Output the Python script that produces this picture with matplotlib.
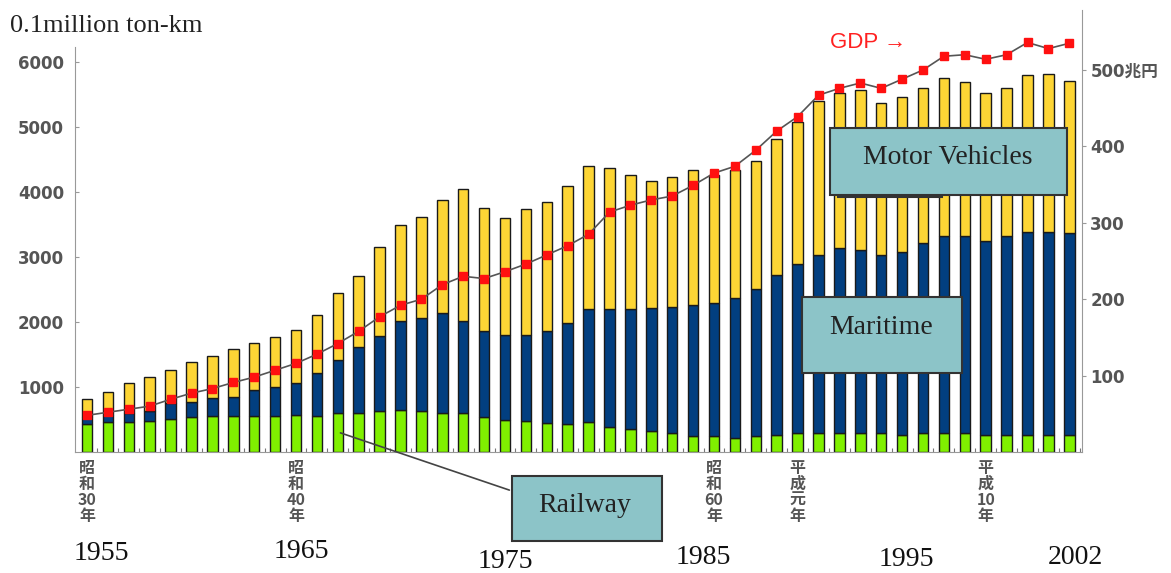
import numpy as np
import matplotlib.pyplot as plt
from matplotlib.patches import Rectangle
import matplotlib.transforms as mtransforms

# data (0.1 million ton-km / GDP in trillion yen)
years = np.arange(1955, 2003)
railway = [431, 466, 461, 477, 508, 533, 559, 554, 554, 559, 569, 554,
           605, 605, 631, 646, 631, 605, 605, 544, 492, 482, 441, 431,
           456, 390, 354, 328, 287, 246, 246, 221, 246, 262, 287,
           287, 287, 287, 287, 262, 287, 287, 287, 262, 262, 262, 262, 262]
maritime = [110, 105, 145, 160, 241, 241, 267, 297, 400, 436, 498, 656,
            810, 1015, 1159, 1369, 1425, 1528, 1410, 1318, 1308, 1318, 1426, 1559,
            1739, 1805, 1841, 1882, 1939, 2010, 2051, 2153, 2257, 2461, 2605,
            2744, 2846, 2821, 2744, 2820, 2934, 3036, 3036, 2989, 3061, 3118, 3118, 3102]
motor = [270, 357, 451, 517, 517, 611, 656, 734, 728, 779, 805, 898,
         1036, 1088, 1359, 1477, 1564, 1744, 2031, 1897, 1805, 1933, 1984, 2102,
         2210, 2179, 2067, 1959, 2000, 2082, 1965, 1964, 1974, 2092, 2180,
         2374, 2385, 2461, 2333, 2385, 2374, 2426, 2374, 2277, 2282, 2420, 2435, 2349]
gdp = [48, 52, 56, 60, 69, 77, 83, 91, 98, 107, 116, 128,
       142, 158, 177, 192, 200, 219, 230, 227, 236, 246, 258, 270,
       285, 314, 323, 330, 335, 349, 365, 374, 395, 420, 439,
       467, 476, 483, 476, 488, 500, 518, 520, 514, 520, 536, 528, 535]

era_years = [1955, 1965, 1985, 1989, 1998]
era_labels = ['昭\n和\n30\n年', '昭\n和\n40\n年', '昭\n和\n60\n年', '平\n成\n元\n年', '平\n成\n10\n年']
year_labels = ['1955', '1965', '1975', '1985', '1995', '2002']
year_label_x = [1955.67, 1965.24, 1975.0, 1984.47, 1994.2, 2002.29]
year_label_y = [553, 551, 562, 557, 560, 557]

W, H = 1171, 573
def fx(px):
    return px / W
def fy(py):
    return 1 - py / H

fig = plt.figure(figsize=(W / 100, H / 100), dpi=100)
ax = fig.add_axes([fx(75), fy(452), fx(1082) - fx(75), fy(10) - fy(452)])
ax2 = ax.twinx()

rail = np.array(railway)
mar = np.array(maritime)
mot = np.array(motor)
ec = '#1a1a1a'
ax.bar(years, rail, width=0.5, color='#80f000', edgecolor=ec, linewidth=1.0, zorder=2)
ax.bar(years, mar, bottom=rail, width=0.5, color='#023f80', edgecolor=ec, linewidth=1.0, zorder=2)
ax.bar(years, mot, bottom=rail + mar, width=0.5, color='#fdd535', edgecolor=ec, linewidth=1.0, zorder=2)

ax2.plot(years, gdp, color='#555555', linewidth=1.2, marker='s', markersize=6,
         markerfacecolor='#ff1010', markeredgecolor='#ff1010', zorder=3)

xl = 1955 - 12 / 20.9
ax.set_xlim(xl, xl + 1007 / 20.9)
ax.set_ylim(0, 442 / 65 * 1000)
ax2.set_ylim(0, 442 * 500 / 382)

ax.spines['top'].set_visible(False)
ax2.spines['top'].set_visible(False)
ax2.spines['left'].set_visible(False)
ax2.spines['bottom'].set_visible(False)
ax.spines['right'].set_visible(False)
ax.spines['left'].set_bounds(0, 6230)
ax.spines['left'].set_color('#999999')
ax.spines['bottom'].set_color('#999999')
ax2.spines['right'].set_color('#999999')

ax.set_yticks([1000, 2000, 3000, 4000, 5000, 6000])
ax.tick_params(axis='y', length=3, direction='in', color='#999999', labelsize=12,
               labelcolor='#555555', pad=8)
for t in ax.get_yticklabels():
    t.set_fontweight('bold')
ax.set_xticks(years + 0.5)
ax.set_xticklabels([])
ax.tick_params(axis='x', length=3, direction='in', color='#777777')

ax2.set_yticks([100, 200, 300, 400, 500])
ax2.set_yticklabels(['100', '200', '300', '400', '500兆円'],
                    family=['DejaVu Sans', 'Noto Sans CJK JP'], fontweight='bold')
ax2.tick_params(axis='y', length=3, color='#999999', labelsize=12, labelcolor='#555555', pad=3)

# era labels under the axis
trans = mtransforms.blended_transform_factory(ax.transData, fig.transFigure)
for yr, lab in zip(era_years, era_labels):
    ax.text(yr, fy(460), lab, transform=trans, ha='center', va='top', fontsize=11.5,
            color='#555555', family=['Noto Sans CJK JP', 'DejaVu Sans'], fontweight='bold',
            linespacing=1.0)
for lab, x, y in zip(year_labels, year_label_x, year_label_y):
    ax.text(x, fy(y), lab, transform=trans, ha='center', va='center', fontsize=20,
            family='Liberation Serif', color='#111111')

fig.text(fx(10), fy(26), '0.1million ton-km', fontsize=19, family='Liberation Serif',
         color='#222222', va='center', ha='left')
fig.text(fx(830), fy(42), 'GDP →', fontsize=16, family='Liberation Sans',
         color='#ff2020', va='center', ha='left')

def box(x0, y0, x1, y1, face='#8cc4c8', z=5):
    r = Rectangle((fx(x0), fy(y1)), fx(x1) - fx(x0), fy(y0) - fy(y1), transform=fig.transFigure,
                  facecolor=face, edgecolor='#333333', linewidth=1.5, zorder=z)
    fig.add_artist(r)

box(838, 130, 942, 197, face='#eeeeee', z=4)
box(830, 128, 1067, 195)
box(802, 297, 962, 373)
box(512, 476, 662, 541)
fig.text(fx(948), fy(157), 'Motor Vehicles', fontsize=20, family='Liberation Serif',
         color='#222222', ha='center', va='center', zorder=6)
fig.text(fx(881), fy(327), 'Maritime', fontsize=20, family='Liberation Serif',
         color='#222222', ha='center', va='center', zorder=6)
fig.text(fx(585), fy(506), 'Railway', fontsize=20, family='Liberation Serif',
         color='#222222', ha='center', va='center', zorder=6)

ax.annotate('', xy=(1967, 308), xycoords='data', xytext=(fx(512), fy(491)),
            textcoords='figure fraction',
            arrowprops=dict(arrowstyle='-', color='#444444', lw=1.2), annotation_clip=False)

fig.savefig('out.png', dpi=100)
